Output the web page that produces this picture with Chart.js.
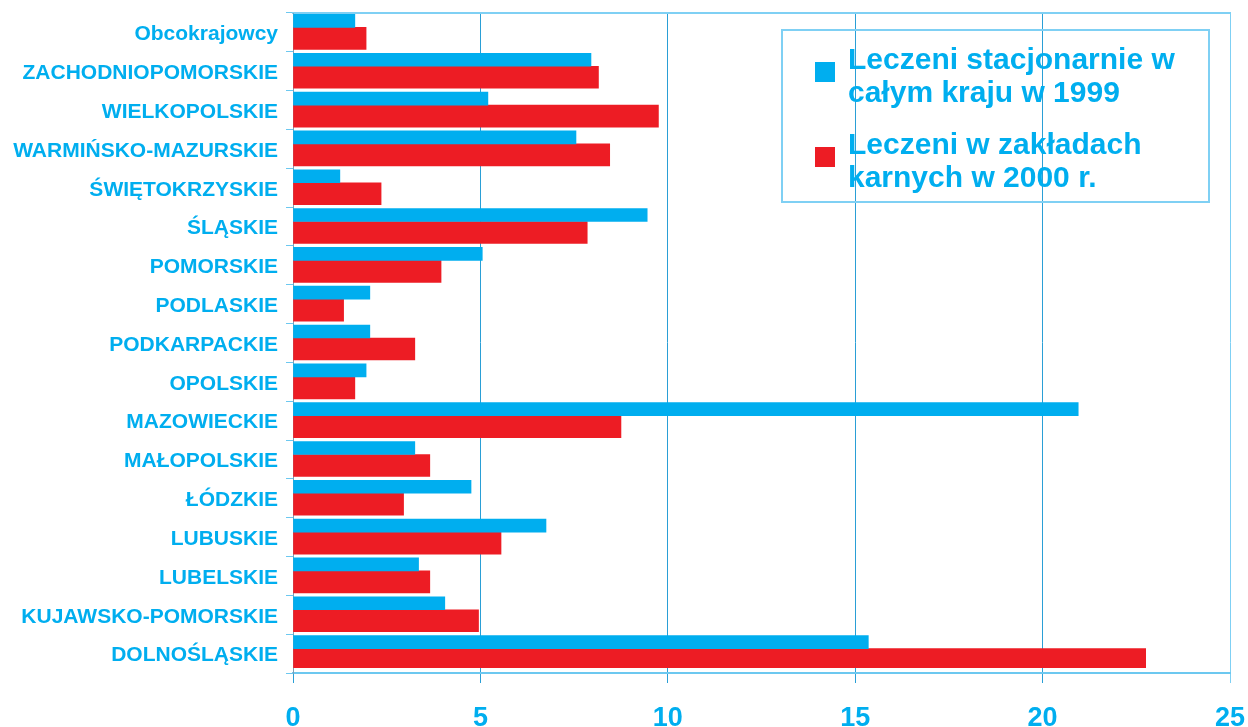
<!DOCTYPE html>
<html>
<head>
<meta charset="utf-8">
<script src="https://cdn.jsdelivr.net/npm/chart.js@4/dist/chart.umd.min.js"></script>
<style>
  body { margin: 0; background: #fff; }
  #wrap { position: relative; width: 1248px; height: 727px; }
  #legend {
    position: absolute; left: 781px; top: 29px; width: 425px; height: 170px;
    border: 2px solid #7fd0f4; font-family: "Liberation Sans", Arial, sans-serif;
    font-weight: bold; font-size: 30px; line-height: 33px; color: #00aeef;
  }
  .item { position: absolute; left: 65px; white-space: nowrap; }
  .item .sw { position: absolute; left: -33px; width: 20px; height: 20px; }
</style>
</head>
<body>
<div id="wrap">
  <canvas id="myChart" width="1248" height="727"></canvas>
  <div id="legend">
    <div class="item" style="top: 11px;"><span class="sw" style="top: 20px; background: #00aeef;"></span>Leczeni stacjonarnie w<br>całym kraju w 1999</div>
    <div class="item" style="top: 96px;"><span class="sw" style="top: 20px; background: #ed1c24;"></span>Leczeni w zakładach<br>karnych w 2000 r.</div>
  </div>
</div>
<script>
const regions = [
  'Obcokrajowcy', 'ZACHODNIOPOMORSKIE', 'WIELKOPOLSKIE', 'WARMIŃSKO-MAZURSKIE',
  'ŚWIĘTOKRZYSKIE', 'ŚLĄSKIE', 'POMORSKIE', 'PODLASKIE', 'PODKARPACKIE',
  'OPOLSKIE', 'MAZOWIECKIE', 'MAŁOPOLSKIE', 'ŁÓDZKIE', 'LUBUSKIE',
  'LUBELSKIE', 'KUJAWSKO-POMORSKIE', 'DOLNOŚLĄSKIE'
];
const hospital1999 = [1.65, 7.95, 5.2, 7.55, 1.25, 9.45, 5.05, 2.05, 2.05, 1.95, 20.95, 3.25, 4.75, 6.75, 3.35, 4.05, 15.35];
const prisons2000 = [1.95, 8.15, 9.75, 8.45, 2.35, 7.85, 3.95, 1.35, 3.25, 1.65, 8.75, 3.65, 2.95, 5.55, 3.65, 4.95, 22.75];
const xTicks = [0, 5, 10, 15, 20, 25];

const BLUE = '#00aeef';
const RED = '#ed1c24';
const FONT = '"Liberation Sans", Arial, sans-serif';

// bars sit a little above the category centre in the original
const shiftBars = {
  id: 'shiftBars',
  beforeDatasetsDraw(chart) { chart.ctx.save(); chart.ctx.translate(0, -5); },
  afterDatasetsDraw(chart) { chart.ctx.restore(); }
};

function noPad(s) {
  s.paddingTop = 0; s.paddingBottom = 0; s.paddingLeft = 0; s.paddingRight = 0;
}

new Chart(document.getElementById('myChart').getContext('2d'), {
  type: 'bar',
  data: {
    labels: regions,
    datasets: [
      { label: 'Leczeni stacjonarnie w całym kraju w 1999', data: hospital1999, backgroundColor: BLUE, barThickness: 13 },
      { label: 'Leczeni w zakładach karnych w 2000 r.', data: prisons2000, backgroundColor: RED, barThickness: 22 }
    ]
  },
  options: {
    indexAxis: 'y',
    responsive: false,
    animation: false,
    layout: { padding: { top: 0, right: 18, bottom: 0, left: 0 } },
    plugins: { legend: { display: false }, tooltip: { enabled: false } },
    scales: {
      x: {
        min: 0, max: 25,
        afterBuildTicks: s => { s.ticks = xTicks.map(v => ({ value: v })); },
        afterFit: s => { s.height = 54; noPad(s); },
        grid: {
          color: c => c.tick && c.tick.value === 25 ? '#7fd0f4' : '#2a9fd6',
          tickLength: 10
        },
        border: { color: '#6cc8f0', width: 2 },
        ticks: { color: BLUE, font: { family: FONT, size: 27, weight: 'bold' }, padding: 19, maxRotation: 0 }
      },
      x2: {
        type: 'linear', position: 'top',
        afterFit: s => { s.height = 13; noPad(s); },
        grid: { drawOnChartArea: false, drawTicks: false },
        border: { color: '#7fd0f4', width: 2 },
        ticks: { display: false }
      },
      y: {
        afterFit: s => { s.width = 293; noPad(s); },
        grid: { offset: true, drawOnChartArea: false, tickLength: 7, color: '#6cc8f0' },
        border: { color: '#7f9fb5', width: 1 },
        ticks: { color: BLUE, font: { family: FONT, size: 21, weight: 'bold' }, padding: 8, labelOffset: 2 }
      }
    }
  },
  plugins: [shiftBars]
});
</script>
</body>
</html>
